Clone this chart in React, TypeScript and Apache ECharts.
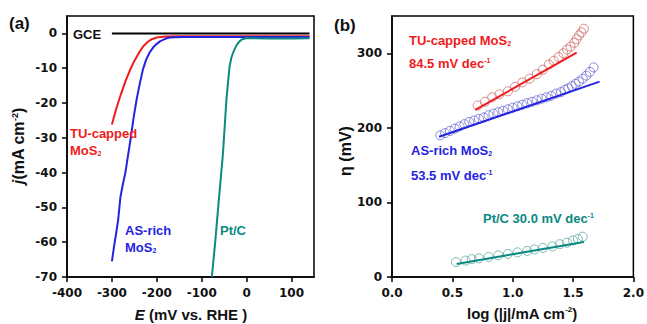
import React, { useEffect, useRef } from "react";
import * as echarts from "echarts";

// ---- Panel (a) data ----
const E_GCE = [-300, 140];
const J_GCE = [0, 0];
const E_TU = [-300, -290, -280, -270, -260, -250, -240, -230, -220, -210, -200, -190, -180, -150, -100, -50, 0, 50, 100, 140];
const J_TU = [-26.2, -21.5, -17.5, -13.8, -10.6, -7.9, -5.6, -3.7, -2.4, -1.6, -1.2, -1.0, -0.9, -0.8, -0.8, -0.8, -0.8, -0.8, -0.8, -0.8];
const E_AS = [-300, -295, -290, -286, -281, -275, -270, -264, -258, -252, -245, -238, -231, -224, -216, -208, -200, -193, -185, -178, -171, -160, -140, -100, -50, 0, 50, 100, 140];
const J_AS = [-65.5, -61, -57, -53.5, -47, -43, -40, -35, -30, -24.5, -19, -14.5, -10.4, -7.6, -5.5, -4, -3, -2.3, -1.8, -1.4, -1.2, -1.1, -1.05, -1.0, -1.0, -1.0, -1.0, -1.0, -1.0];
const E_PT = [-77.5, -70, -62, -53, -49, -45, -41, -38, -34, -30, -27, -22, -16, -10, 0, 20, 50, 100, 140];
const J_PT = [-70, -60, -48, -35, -27, -19, -13.5, -9.5, -7, -5.5, -4.6, -3.3, -2.3, -1.7, -1.3, -1.4, -1.5, -1.5, -1.4];
const X_TICKS_A = [-400, -300, -200, -100, 0, 100];
const Y_TICKS_A = [-70, -60, -50, -40, -30, -20, -10, 0];

// ---- Panel (b) data ----
const LOG_TU = [0.71, 0.77, 0.83, 0.89, 0.96, 1.02, 1.08, 1.14, 1.2, 1.25, 1.3, 1.34, 1.38, 1.42, 1.45, 1.48, 1.51, 1.53, 1.55, 1.57, 1.59];
const ETA_TU = [230, 235, 241, 245, 249, 255, 261, 266, 272, 278, 285, 290, 295, 300, 305, 309, 314, 319, 324, 328, 333];
const FIT_TU_X = [0.69, 1.53];
const FIT_TU_Y = [224, 301];
const LOG_AS = [0.4, 0.44, 0.48, 0.52, 0.56, 0.6, 0.64, 0.68, 0.72, 0.76, 0.8, 0.84, 0.88, 0.92, 0.96, 1.0, 1.04, 1.08, 1.12, 1.16, 1.2, 1.24, 1.28, 1.32, 1.36, 1.4, 1.43, 1.46, 1.49, 1.52, 1.55, 1.58, 1.61, 1.64, 1.67];
const ETA_AS = [190, 193, 196, 199, 202, 205, 208, 210, 212, 214, 217, 219, 221, 223, 225, 227, 229, 231, 233, 235, 237, 239, 241, 243, 246, 248, 251, 253, 256, 259, 262, 266, 270, 275, 281];
const FIT_AS_X = [0.39, 1.72];
const FIT_AS_Y = [188, 262];
const LOG_PT = [0.53, 0.61, 0.66, 0.72, 0.8, 0.88, 0.96, 1.04, 1.12, 1.18, 1.25, 1.33, 1.39, 1.45, 1.5, 1.54, 1.58];
const ETA_PT = [20, 22, 24, 25, 27, 29, 31, 33, 35, 37, 39, 41, 44, 46, 49, 51, 54];
const FIT_PT_X = [0.535, 1.59];
const FIT_PT_Y = [17.5, 47];
const X_TICKS_B = [0, 0.5, 1.0, 1.5, 2.0];
const Y_TICKS_B = [0, 100, 200, 300];

const RED = "#ee1c1c";
const BLUE = "#2424e0";
const TEAL = "#0a8a80";
const FONT = "Liberation Sans, Arial, sans-serif";
const TICK_FONT = "DejaVu Sans, sans-serif";

const zip = (a: number[], b: number[]) => a.map((v, i) => [v, b[i]]);

export default function App() {
  const ref = useRef<HTMLDivElement>(null);
  useEffect(() => {
    if (!ref.current) return;
    const chart = echarts.init(ref.current, null, { renderer: "svg" });
    const axisCommon = {
      axisLine: { show: true, onZero: false, lineStyle: { color: "#000", width: 1.5 } },
      axisTick: { show: true, inside: false, length: 5, lineStyle: { color: "#000", width: 1.5 } },
      splitLine: { show: false },
    };
    const labelStyle = { color: "#111", fontSize: 12, fontWeight: "bold" as const, fontFamily: TICK_FONT };
    const lineSeries = (x: number[], y: number[], color: string, idx: number, width = 2) => ({
      type: "line",
      xAxisIndex: idx,
      yAxisIndex: idx,
      data: zip(x, y),
      showSymbol: false,
      symbol: "none",
      lineStyle: { color, width },
      z: 3,
    });
    const scatter = (x: number[], y: number[], color: string) => ({
      type: "scatter",
      xAxisIndex: 1,
      yAxisIndex: 1,
      data: zip(x, y),
      symbol: "circle",
      symbolSize: 9,
      itemStyle: { color: "rgba(255,255,255,0)", borderColor: color, borderWidth: 1 },
      z: 2,
    });
    const txt = (x: number, y: number, parts: string, color: string, size = 13, extra: any = {}) => {
      const sub = Math.round(size * 0.55);
      return {
        type: "text",
        x,
        y,
        style: {
          text: parts,
          fill: color,
          font: `bold ${size}px ${FONT}`,
          fontFamily: FONT,
          fontSize: size,
          fontWeight: "bold",
          verticalAlign: "middle",
          rich: {
            sub: { fontSize: sub, fontWeight: "bold", fill: color, color, verticalAlign: "bottom", fontFamily: FONT },
            sup: { fontSize: sub, fontWeight: "bold", fill: color, color, verticalAlign: "top", fontFamily: FONT },
            i: { fontStyle: "italic", fontWeight: "bold", fontSize: size, fontFamily: FONT, fill: color, color },
            n: { fontWeight: "bold", fontSize: size, fontFamily: FONT, fill: color, color },
          },
          ...extra,
        },
        z: 10,
      };
    };

    chart.setOption({
      animation: false,
      backgroundColor: "#fff",
      grid: [
        { left: 67, top: 16, width: 247, height: 261, show: true, borderColor: "#000", borderWidth: 1.5, backgroundColor: "transparent" },
        { left: 392, top: 16, width: 248, height: 261, show: true, borderColor: "#000", borderWidth: 1.5, backgroundColor: "transparent" },
      ],
      xAxis: [
        {
          type: "value", gridIndex: 0, min: -400, max: 150, interval: 100, ...axisCommon,
          axisTick: { ...axisCommon.axisTick, customValues: X_TICKS_A },
          axisLabel: { ...labelStyle, margin: 10, customValues: X_TICKS_A },
        },
        {
          type: "value", gridIndex: 1, min: 0, max: 2, interval: 0.5, ...axisCommon,
          axisTick: { ...axisCommon.axisTick, customValues: X_TICKS_B },
          axisLabel: { ...labelStyle, margin: 10, customValues: X_TICKS_B, formatter: (v: number) => v.toFixed(1) },
        },
      ],
      yAxis: [
        {
          type: "value", gridIndex: 0, min: -70, max: 5, interval: 10, ...axisCommon,
          axisTick: { ...axisCommon.axisTick, customValues: Y_TICKS_A },
          axisLabel: { ...labelStyle, margin: 10, customValues: Y_TICKS_A },
        },
        {
          type: "value", gridIndex: 1, min: 0, max: 350, interval: 100, ...axisCommon,
          axisTick: { ...axisCommon.axisTick, customValues: Y_TICKS_B },
          axisLabel: { ...labelStyle, margin: 10, customValues: Y_TICKS_B },
        },
      ],
      series: [
        lineSeries(E_GCE, J_GCE, "#000", 0, 2),
        lineSeries(E_TU, J_TU, RED, 0),
        lineSeries(E_AS, J_AS, BLUE, 0),
        lineSeries(E_PT, J_PT, TEAL, 0),
        scatter(LOG_TU, ETA_TU, "#d06a6a"),
        scatter(LOG_AS, ETA_AS, "#6a6ad0"),
        scatter(LOG_PT, ETA_PT, "#5aa8a0"),
        lineSeries(FIT_TU_X, FIT_TU_Y, RED, 1),
        lineSeries(FIT_AS_X, FIT_AS_Y, BLUE, 1),
        lineSeries(FIT_PT_X, FIT_PT_Y, TEAL, 1),
      ],
      graphic: [
        txt(9, 23, "(a)", "#111", 17),
        txt(334, 25, "(b)", "#111", 17),
        txt(73, 34, "GCE", "#111"),
        txt(70, 133, "TU-capped", RED),
        txt(70, 150, "{n|MoS}{sub|2}", RED),
        txt(125, 230, "AS-rich", BLUE),
        txt(125, 247, "{n|MoS}{sub|2}", BLUE),
        txt(220, 230, "Pt/C", TEAL),
        txt(409, 40, "{n|TU-capped MoS}{sub|2}", RED),
        txt(409, 63, "{n|84.5 mV dec}{sup|-1}", RED),
        txt(411, 150, "{n|AS-rich MoS}{sub|2}", BLUE),
        txt(411, 175, "{n|53.5 mV dec}{sup|-1}", BLUE),
        txt(483, 218, "{n|Pt/C 30.0 mV dec}{sup|-1}", TEAL),
        txt(191, 314, "{i|E}{n| (mV vs. RHE )}", "#111", 15, { align: "center" }),
        txt(522, 313, "{n|log (|j|/mA cm}{sup|-2}{n|)}", "#111", 15, { align: "center" }),
        {
          ...txt(0, 0, "{i|j}{n|(mA cm}{sup|-2}{n|)}", "#111", 16, { align: "center" }),
          x: 18, y: 146, rotation: Math.PI / 2,
        },
        {
          ...txt(0, 0, "{n|η (mV)}", "#111", 16, { align: "center" }),
          x: 345, y: 151, rotation: Math.PI / 2,
        },
      ],
    });
    return () => chart.dispose();
  }, []);
  return <div ref={ref} style={{ position: "fixed", left: 0, top: 0, width: 647, height: 324, background: "#fff" }} />;
}
